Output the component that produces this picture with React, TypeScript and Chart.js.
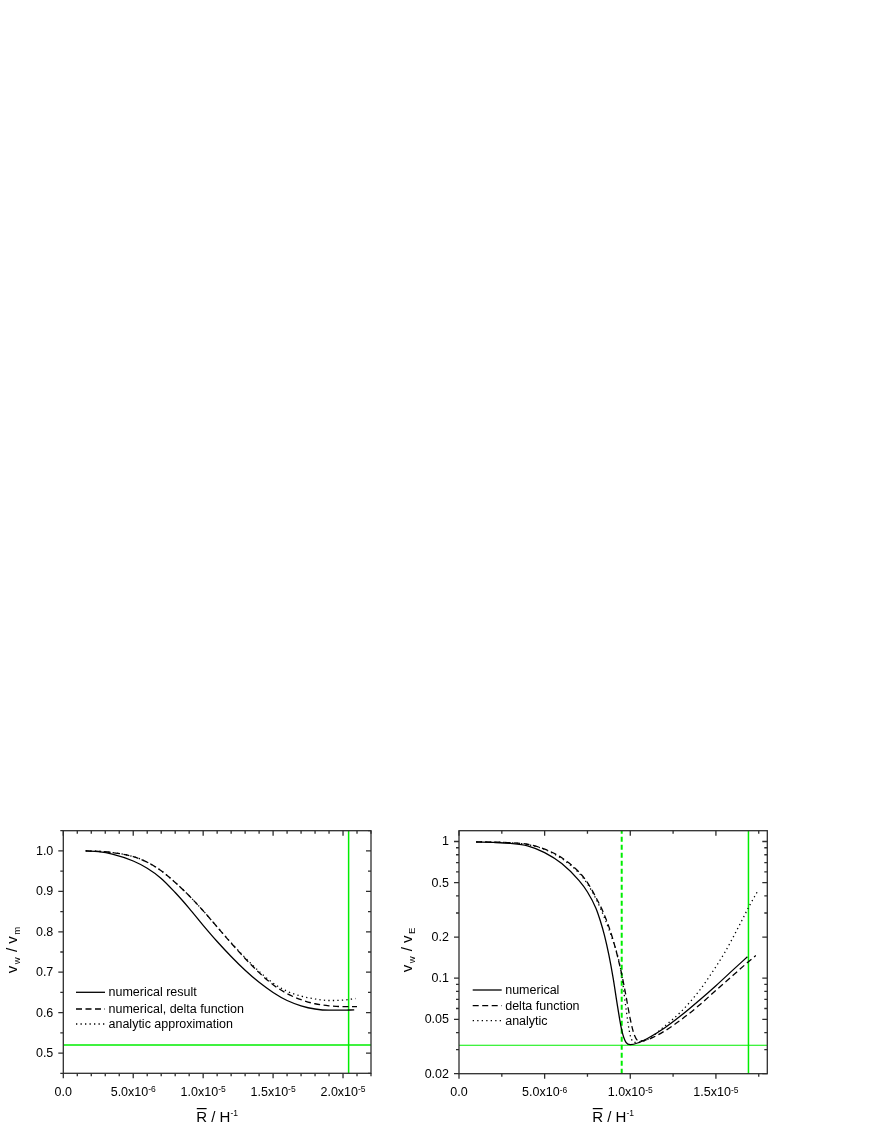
import { useEffect, useRef } from "react";
import { Chart, registerables } from "chart.js";

Chart.register(...registerables);

// x values are in units of 1e-6 (R / H^-1)
const X_UNIT = 1e-6;

// left panel: linear y
const leftNumX = [1.6, 2.5, 3.5, 5, 6, 7, 8, 9, 10, 11, 12, 13, 14, 15, 16, 17, 18, 19, 20, 20.8];
const leftNumY = [1.0, 0.998, 0.992, 0.975, 0.957, 0.932, 0.897, 0.858, 0.816, 0.776, 0.739, 0.705, 0.675, 0.65, 0.63, 0.617, 0.609, 0.606, 0.606, 0.607];
const leftDeltaX = [1.6, 2.5, 3.5, 5, 6, 7, 8, 9, 10, 11, 12, 13, 14, 15, 16, 17, 18, 19, 20, 21];
const leftDeltaY = [1.0, 0.999, 0.996, 0.986, 0.972, 0.951, 0.922, 0.889, 0.852, 0.812, 0.772, 0.734, 0.699, 0.669, 0.647, 0.632, 0.622, 0.617, 0.615, 0.615];
const leftAnaX = [1.6, 2.5, 3.5, 5, 6, 7, 8, 9, 10, 11, 12, 13, 14, 15, 16, 17, 18, 19, 20, 20.9];
const leftAnaY = [1.0, 0.999, 0.996, 0.986, 0.972, 0.951, 0.922, 0.889, 0.852, 0.812, 0.773, 0.736, 0.702, 0.673, 0.653, 0.641, 0.634, 0.63, 0.631, 0.635];
const leftVLine = 20.4;
const leftHLine = 0.52;
const leftLegend = ["numerical result", "numerical, delta function", "analytic approximation"];

// right panel: log y
const rightNumX = [1, 2, 3, 4, 5, 6, 7, 7.5, 8, 8.25, 8.5, 8.75, 9, 9.25, 9.5, 9.75, 10, 10.5, 11, 12, 13, 14, 15, 16, 16.84];
const rightNumY = [0.99, 0.985, 0.97, 0.93, 0.83, 0.69, 0.519, 0.427, 0.324, 0.263, 0.204, 0.148, 0.1, 0.063, 0.0417, 0.0339, 0.0326, 0.0338, 0.0362, 0.0432, 0.0537, 0.0684, 0.0881, 0.115, 0.1435];
const rightDeltaX = [1, 2, 3, 4, 5, 6, 7, 7.5, 8, 8.5, 9, 9.5, 9.75, 10, 10.25, 10.5, 11, 12, 13, 14, 15, 16, 16.84, 17.33];
const rightDeltaY = [0.995, 0.99, 0.98, 0.955, 0.88, 0.76, 0.6, 0.501, 0.389, 0.288, 0.19, 0.107, 0.0741, 0.0501, 0.038, 0.0347, 0.0355, 0.041, 0.05, 0.063, 0.0815, 0.105, 0.13, 0.1467];
const rightAnaX = [1, 2, 3, 4, 5, 6, 7, 7.5, 8, 8.5, 9, 9.25, 9.5, 9.75, 10, 10.25, 10.5, 11, 12, 13, 14, 14.5, 15.5, 16.45, 16.94, 17.43];
const rightAnaY = [0.995, 0.99, 0.98, 0.95, 0.875, 0.75, 0.589, 0.49, 0.38, 0.275, 0.186, 0.148, 0.105, 0.06, 0.038, 0.0339, 0.034, 0.0355, 0.0445, 0.0575, 0.08, 0.0978, 0.153, 0.255, 0.336, 0.432];
const rightVDash = 9.5;
const rightVLine = 16.9;
const rightHLine = 0.0323;
const rightLegend = ["numerical", "delta function", "analytic"];

// ticks
const leftXMajor = [0, 5, 10, 15, 20];
const leftXMinor = [1, 2, 3, 4, 6, 7, 8, 9, 11, 12, 13, 14, 16, 17, 18, 19, 21, 22];
const leftXLabels: [string, string][] = [["0.0", ""], ["5.0x10", "-6"], ["1.0x10", "-5"], ["1.5x10", "-5"], ["2.0x10", "-5"]];
const leftYMajor = [0.5, 0.6, 0.7, 0.8, 0.9, 1.0];
const leftYMinor = [0.45, 0.55, 0.65, 0.75, 0.85, 0.95, 1.05];
const leftYLabels = ["0.5", "0.6", "0.7", "0.8", "0.9", "1.0"];

const rightXMajor = [0, 5, 10, 15];
const rightXMinor = [2.5, 7.5, 12.5, 17.5];
const rightXLabels: [string, string][] = [["0.0", ""], ["5.0x10", "-6"], ["1.0x10", "-5"], ["1.5x10", "-5"]];
const rightYMajor = [0.02, 0.05, 0.1, 0.2, 0.5, 1];
const rightYMinor = [0.03, 0.04, 0.06, 0.07, 0.08, 0.09, 0.3, 0.4, 0.6, 0.7, 0.8, 0.9];
const rightYLabels = ["0.02", "0.05", "0.1", "0.2", "0.5", "1"];

const FONT = '"Liberation Sans", Arial, Helvetica, sans-serif';
const AXIS_COLOR = "#2e2e2e";
const GREEN = "#00ee00";
const DASH = [6, 3.5];
const DOT = [1.3, 3.2];

type Piece = { t: string; size: number; dy?: number; gap?: number; over?: boolean };

function drawPieces(ctx: CanvasRenderingContext2D, pieces: Piece[], cx: number, y: number) {
  let total = 0;
  const widths = pieces.map((p) => {
    ctx.font = `${p.size}px ${FONT}`;
    const w = ctx.measureText(p.t).width;
    total += w + (p.gap || 0);
    return w;
  });
  let x = cx - total / 2;
  pieces.forEach((p, i) => {
    x += p.gap || 0;
    ctx.font = `${p.size}px ${FONT}`;
    ctx.fillText(p.t, x, y + (p.dy || 0));
    if (p.over) {
      const oy = y - p.size * 0.86;
      ctx.beginPath();
      ctx.lineWidth = 1.2;
      ctx.moveTo(x + 0.5, oy);
      ctx.lineTo(x + widths[i] - 0.5, oy);
      ctx.stroke();
    }
    x += widths[i];
  });
}

type Spec = {
  xMajor: number[];
  xMinor: number[];
  xLabels: [string, string][];
  yMajor: number[];
  yMinor: number[];
  yLabels: string[];
  ySub: string;
  yTitleX: number;
  legend: string[];
  legendX: number;
  legendY: number[];
};

function framePlugin(spec: Spec) {
  return {
    id: "frame",
    afterDraw(chart: any) {
      const { ctx, chartArea: a, scales } = chart;
      const xs = scales.x;
      const ys = scales.y;
      ctx.save();
      ctx.strokeStyle = AXIS_COLOR;
      ctx.fillStyle = "#000";
      ctx.lineWidth = 1.3;
      ctx.setLineDash([]);
      ctx.strokeRect(a.left, a.top, a.right - a.left, a.bottom - a.top);

      // bottom/left ticks point out, top/right ticks point in
      const xTick = (v: number, len: number) => {
        const px = xs.getPixelForValue(v * X_UNIT);
        ctx.beginPath();
        ctx.moveTo(px, a.bottom);
        ctx.lineTo(px, a.bottom + len);
        ctx.moveTo(px, a.top);
        ctx.lineTo(px, a.top + len);
        ctx.stroke();
      };
      const yTick = (v: number, len: number) => {
        const py = ys.getPixelForValue(v);
        ctx.beginPath();
        ctx.moveTo(a.left, py);
        ctx.lineTo(a.left - len, py);
        ctx.moveTo(a.right, py);
        ctx.lineTo(a.right - len, py);
        ctx.stroke();
      };
      spec.xMajor.forEach((v) => xTick(v, 5));
      spec.xMinor.forEach((v) => xTick(v, 3));
      spec.yMajor.forEach((v) => yTick(v, 5));
      spec.yMinor.forEach((v) => yTick(v, 3));

      // tick labels
      ctx.textBaseline = "alphabetic";
      ctx.textAlign = "left";
      spec.xMajor.forEach((v, i) => {
        const [main, sup] = spec.xLabels[i];
        const px = xs.getPixelForValue(v * X_UNIT);
        const pieces: Piece[] = [{ t: main, size: 12.5 }];
        if (sup) pieces.push({ t: sup, size: 8.5, dy: -3.5 });
        drawPieces(ctx, pieces, px, a.bottom + 22.4);
      });
      ctx.font = `12.5px ${FONT}`;
      ctx.textAlign = "right";
      ctx.textBaseline = "middle";
      spec.yMajor.forEach((v, i) => {
        ctx.fillText(spec.yLabels[i], a.left - 10, ys.getPixelForValue(v) + 0.5);
      });

      // axis titles
      ctx.textAlign = "left";
      ctx.textBaseline = "alphabetic";
      ctx.strokeStyle = "#000";
      drawPieces(
        ctx,
        [
          { t: "R", size: 15, over: true },
          { t: " / H", size: 15 },
          { t: "-1", size: 8.5, dy: -6 },
        ],
        (a.left + a.right) / 2,
        chart.height - 6.5
      );
      ctx.save();
      ctx.translate(spec.yTitleX, 135);
      ctx.rotate(-Math.PI / 2);
      drawPieces(
        ctx,
        [
          { t: "v", size: 15 },
          { t: "w", size: 9.5, dy: 3, gap: 1.5 },
          { t: " / v", size: 15, gap: 1 },
          { t: spec.ySub, size: 9.5, dy: 3, gap: 1.5 },
        ],
        0,
        0
      );
      ctx.restore();

      // legend
      const dashes = [[], DASH, DOT];
      spec.legend.forEach((text, i) => {
        const y = spec.legendY[i];
        ctx.beginPath();
        ctx.strokeStyle = "#000";
        ctx.lineWidth = 1.3;
        ctx.setLineDash(dashes[i]);
        ctx.moveTo(spec.legendX, y);
        ctx.lineTo(spec.legendX + 29, y);
        ctx.stroke();
        ctx.setLineDash([]);
        ctx.font = `12.5px ${FONT}`;
        ctx.textBaseline = "middle";
        ctx.fillText(text, spec.legendX + 32.5, y + 0.5);
      });
      ctx.restore();
    },
  };
}

const curve = (xs: number[], ys: number[], dash: number[], label: string) => ({
  label,
  data: xs.map((x, i) => ({ x: x * X_UNIT, y: ys[i] })),
  borderColor: "#000",
  borderWidth: 1.3,
  borderDash: dash,
  pointRadius: 0,
  fill: false,
  cubicInterpolationMode: "monotone" as const,
});

const refLine = (pts: { x: number; y: number }[], dash: number[] = [], width = 1.5) => ({
  data: pts,
  borderColor: GREEN,
  borderWidth: width,
  borderDash: dash,
  pointRadius: 0,
  fill: false,
  tension: 0,
});

function buildLeft(): any {
  const xMin = 0, xMax = 22 * X_UNIT, yMin = 0.45, yMax = 1.05;
  return {
    type: "line",
    data: {
      datasets: [
        curve(leftNumX, leftNumY, [], leftLegend[0]),
        curve(leftDeltaX, leftDeltaY, DASH, leftLegend[1]),
        curve(leftAnaX, leftAnaY, DOT, leftLegend[2]),
        refLine([{ x: leftVLine * X_UNIT, y: yMin }, { x: leftVLine * X_UNIT, y: yMax }]),
        refLine([{ x: xMin, y: leftHLine }, { x: xMax, y: leftHLine }]),
      ],
    },
    options: {
      animation: false,
      responsive: true,
      maintainAspectRatio: false,
      events: [],
      layout: { padding: { left: 63.3, top: 15.7, right: 29, bottom: 54.7 } },
      plugins: { legend: { display: false }, tooltip: { enabled: false } },
      scales: {
        x: { type: "linear", min: xMin, max: xMax, bounds: "data", display: false },
        y: { type: "linear", min: yMin, max: yMax, bounds: "data", display: false },
      },
    },
    plugins: [
      framePlugin({
        xMajor: leftXMajor,
        xMinor: leftXMinor,
        xLabels: leftXLabels,
        yMajor: leftYMajor,
        yMinor: leftYMinor,
        yLabels: leftYLabels,
        ySub: "m",
        yTitleX: 16.7,
        legend: leftLegend,
        legendX: 76,
        legendY: [177.3, 194, 209],
      }),
    ],
  };
}

function buildRight(): any {
  const xMin = 0, xMax = 18 * X_UNIT, yMin = 0.02, yMax = 1.2;
  return {
    type: "line",
    data: {
      datasets: [
        curve(rightNumX, rightNumY, [], rightLegend[0]),
        curve(rightDeltaX, rightDeltaY, DASH, rightLegend[1]),
        curve(rightAnaX, rightAnaY, DOT, rightLegend[2]),
        refLine([{ x: rightVDash * X_UNIT, y: yMin }, { x: rightVDash * X_UNIT, y: yMax }], [5, 3], 2),
        refLine([{ x: rightVLine * X_UNIT, y: yMin }, { x: rightVLine * X_UNIT, y: yMax }]),
        refLine([{ x: xMin, y: rightHLine }, { x: xMax, y: rightHLine }], [], 1.2),
      ],
    },
    options: {
      animation: false,
      responsive: true,
      maintainAspectRatio: false,
      events: [],
      layout: { padding: { left: 59, top: 15.7, right: 32.7, bottom: 54.3 } },
      plugins: { legend: { display: false }, tooltip: { enabled: false } },
      scales: {
        x: { type: "linear", min: xMin, max: xMax, bounds: "data", display: false },
        y: { type: "logarithmic", min: yMin, max: yMax, bounds: "data", display: false },
      },
    },
    plugins: [
      framePlugin({
        xMajor: rightXMajor,
        xMinor: rightXMinor,
        xLabels: rightXLabels,
        yMajor: rightYMajor,
        yMinor: rightYMinor,
        yLabels: rightYLabels,
        ySub: "E",
        yTitleX: 11.7,
        legend: rightLegend,
        legendX: 72.7,
        legendY: [175, 190.7, 205.7],
      }),
    ],
  };
}

function Panel({ left, build }: { left: number; build: () => any }) {
  const canvasRef = useRef<HTMLCanvasElement | null>(null);

  useEffect(() => {
    if (!canvasRef.current) return;
    const chart = new Chart(canvasRef.current, build());
    return () => {
      chart.destroy();
    };
  }, [build]);

  return (
    <div style={{ position: "absolute", left, top: 815, width: 400, height: 313 }}>
      <canvas ref={canvasRef}></canvas>
    </div>
  );
}

export default function App() {
  return (
    <div>
      <Panel left={0} build={buildLeft} />
      <Panel left={400} build={buildRight} />
    </div>
  );
}
